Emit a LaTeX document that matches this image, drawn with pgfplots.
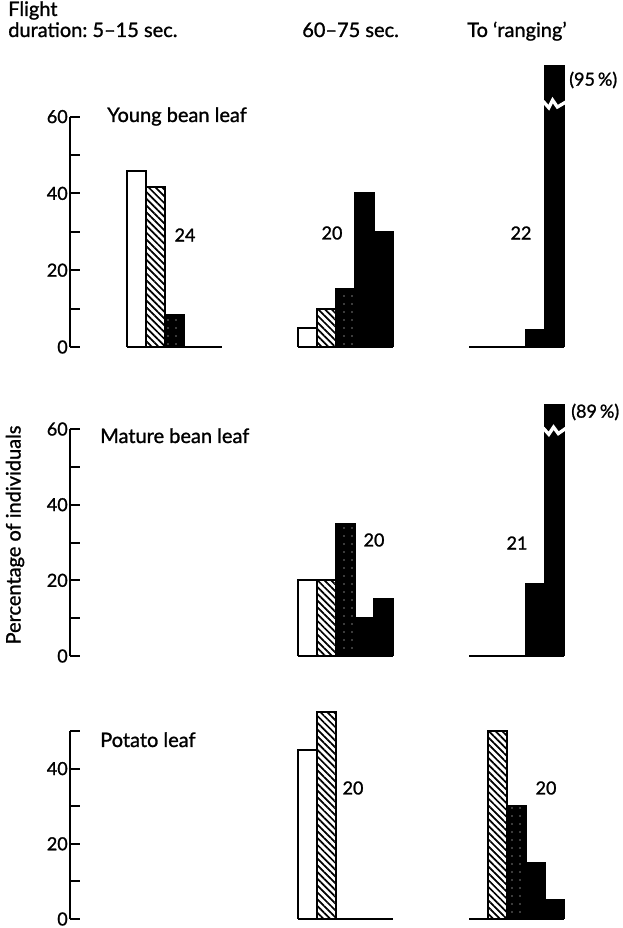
\documentclass[border=0pt]{standalone}
\usepackage{fontspec}
\setmainfont{Lato}[FakeBold=1.2]
\usepackage{pgfplots}
\pgfplotsset{compat=1.18}
\usetikzlibrary{patterns,patterns.meta}

\tikzset{base/.style={line width=1.6pt}}
\newcommand{\wfont}{\fontsize{15}{17}\selectfont}
\newcommand{\nfont}{\fontsize{13.5}{15}\selectfont}
\pgfplotsset{
  panel/.style={
    x=14.25pt, xmin=-2.5, xmax=23.6, ymin=0,
    anchor=south west,
    axis x line=none, axis y line*=left,
    y axis line style={draw=none},
    tick align=inside, major tick length=7.5pt,
    ytick style={line width=1.5pt, black},
    tick label style={font=\nfont},
    yticklabel style={inner sep=1.5pt},
    /pgf/number format/assume math mode=true,
    clip mode=individual,
  },
  bw/.style={ybar, bar width=1, bar shift=0pt, draw=black, line width=1.4pt, fill=white},
  bh/.style={ybar, bar width=1, bar shift=0pt, draw=black, line width=1.4pt,
    pattern={Lines[angle=-45,distance=3.6pt,line width=1.3pt]}},
  bs/.style={ybar, bar width=1, bar shift=0pt, draw=black, line width=1.4pt, fill=black,
    postaction={pattern={Dots[radius=0.5pt,distance=6pt]}, pattern color=white}},
  bk/.style={ybar, bar width=1, bar shift=0pt, draw=black, line width=1.4pt, fill=black},
}

\begin{document}
\begin{tikzpicture}[font=\wfont]
\useasboundingbox (0,0) rectangle (467.25pt,696pt);

% young bean leaf
\begin{axis}[panel, at={(52.5pt,435.75pt)}, y=2.88pt, ymax=73.3,
  ytick={0,10,...,60}, yticklabels={0,,20,,40,,60}]
\addplot[bw] coordinates {(1,45.8) (10,5)};
\addplot[bh] coordinates {(2,41.7) (11,10)};
\addplot[bs] coordinates {(3,8.3) (12,15)};
\addplot[bk] coordinates {(13,40) (22,4.5)};
\addplot[bk] coordinates {(14,30) (23,95)};
\draw[line width=1.6pt] (axis cs:-2.5,0) -- (axis cs:-2.5,60);
\draw[base] (axis cs:0.5,0) -- (axis cs:5.5,0);
\draw[base] (axis cs:9.5,0) -- (axis cs:14.5,0);
\draw[base] (axis cs:18.5,0) -- (axis cs:23.5,0);
\draw[white, line width=2.5pt] (axis cs:22.4,64) -- (axis cs:22.7,62.3) -- (axis cs:22.9,64.3)
  -- (axis cs:23.15,62.5) -- (axis cs:23.6,63.8);
\end{axis}

% mature bean leaf
\begin{axis}[panel, at={(52.5pt,204pt)}, y=2.837pt, ymax=66.4,
  ytick={0,10,...,60}, yticklabels={0,,20,,40,,60}]
\addplot[bw] coordinates {(10,20)};
\addplot[bh] coordinates {(11,20)};
\addplot[bs] coordinates {(12,35)};
\addplot[bk] coordinates {(13,10) (22,19)};
\addplot[bk] coordinates {(14,15) (23,89)};
\draw[line width=1.6pt] (axis cs:-2.5,0) -- (axis cs:-2.5,60);
\draw[base] (axis cs:9.5,0) -- (axis cs:14.5,0);
\draw[base] (axis cs:18.5,0) -- (axis cs:23.5,0);
\draw[white, line width=2.5pt] (axis cs:22.4,60.3) -- (axis cs:22.7,58.6) -- (axis cs:22.95,60.5)
  -- (axis cs:23.2,58.8) -- (axis cs:23.6,60.2);
\end{axis}

% potato leaf
\begin{axis}[panel, at={(52.5pt,6.75pt)}, y=2.82pt, ymax=60,
  ytick={0,10,...,50}, yticklabels={0,,20,,40,}]
\addplot[bw] coordinates {(10,45)};
\addplot[bh] coordinates {(11,55) (20,50)};
\addplot[bs] coordinates {(21,30)};
\addplot[bk] coordinates {(22,15)};
\addplot[bk] coordinates {(23,5)};
\draw[line width=1.6pt] (axis cs:-2.5,0) -- (axis cs:-2.5,50);
\draw[base] (axis cs:9.5,0) -- (axis cs:14.5,0);
\draw[base] (axis cs:18.5,0) -- (axis cs:23.5,0);
\end{axis}

\begin{scope}[x=0.75pt, y=-0.75pt, shift={(0pt,696pt)}]
\node[anchor=base west, inner sep=0] at (8,16) {Flight};
\node[anchor=base west, inner sep=0] at (8,37) {duration:\ 5–15 sec.};
\node[anchor=base west, inner sep=0] at (302,37) {60–75 sec.};
\node[anchor=base west, inner sep=0] at (467,37) {To ‘ranging’};
\node[anchor=base west, inner sep=0] at (107,122) {Young bean leaf};
\node[anchor=base west, inner sep=0] at (100,443) {Mature bean leaf};
\node[anchor=base west, inner sep=0] at (100,747) {Potato leaf};
\node[rotate=90] at (15,535) {Percentage of individuals};
\begin{scope}[font=\nfont]
\node at (185,235) {24};
\node at (332,233) {20};
\node at (521,233) {22};
\node[anchor=west, inner sep=0] at (569,80) {(95\,\%)};
\node at (517,543) {21};
\node at (374,540) {20};
\node[anchor=west, inner sep=0] at (571,412) {(89\,\%)};
\node at (353,788) {20};
\node at (546,788) {20};
\end{scope}
\end{scope}
\end{tikzpicture}
\end{document}
